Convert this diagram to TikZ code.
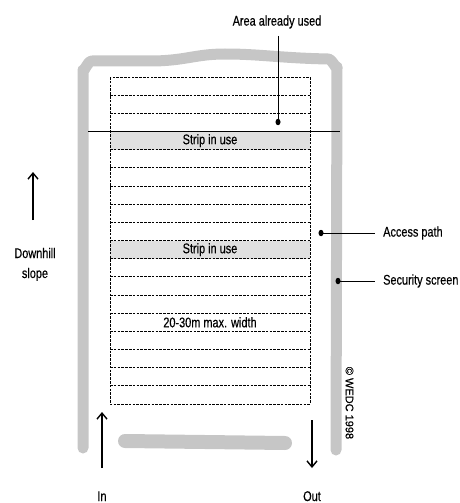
\documentclass[tikz,border=0pt]{standalone}
\usepackage{fontspec}
\setmainfont[FakeStretch=0.78,FakeBold=0.4]{Liberation Sans}
\newfontfamily\plainfont[FakeBold=0.4]{Liberation Sans}
\usetikzlibrary{arrows.meta,shapes.geometric}
\definecolor{bandgray}{RGB}{198,198,198}
\definecolor{stripgray}{RGB}{224,224,224}
\begin{document}
\begin{tikzpicture}[x=1pt,y=-1pt,
  band/.style={draw=bandgray,line width=11pt,line cap=round,line join=round},
  dashline/.style={draw=black,line width=1pt,dash pattern=on 2.6pt off 1.2pt},
  stripfill/.style={fill=stripgray},
  lbl/.style={font=\fontsize{14}{16}\selectfont,inner sep=0pt},
  dotnode/.style={fill=black,ellipse,inner sep=0pt,minimum width=5pt,minimum height=6.5pt},
  leader/.style={draw=black,line width=0.8pt},
  bigarrow/.style={draw=black,line width=1.4pt,-{Straight Barb[length=6pt,width=10pt,line width=1.4pt]}}
]
\useasboundingbox (0,0) rectangle (459,503);
% security screen
\draw[band] (83,448) -- (83,70) to[out=-90,in=180] (92,61) -- (150,61)
  .. controls (185,61) and (195,54) .. (225,54)
  .. controls (260,54) and (280,58) .. (328,59) to[out=0,in=-90] (337,67) -- (336,450);
\draw[band,line width=14pt] (125,441) -- (285,443);
% strips in use
\fill[stripfill] (110,131.5) rectangle (310,149.67);
\fill[stripfill] (110,240.5) rectangle (310,258.67);
% dashed area
\draw[dashline] (110,77) rectangle (310,404);
\foreach \k in {1,...,17} {
  \draw[dashline] (110,77+\k*18.1667) -- (310,77+\k*18.1667);
}
% solid line
\coordinate (solidL) at (88,131);
\coordinate (solidR) at (340,131);
\draw[leader] (solidL) -- (solidR);
% strip texts
\node[lbl] (strip1) at (210,140.6) {Strip in use};
\node[lbl] (strip2) at (210,249.6) {Strip in use};
\node[lbl] (width) at (210,322.3) {20-30m max. width};
% area already used
\node[lbl] (area) at (277,22) {Area already used};
\node[dotnode] (areadot) at (278,122) {};
\draw[leader] (278,36) -- (areadot.center);
% access path
\node[dotnode] (accdot) at (321,233) {};
\node[lbl,anchor=west] (acc) at (383,233) {Access path};
\draw[leader] (accdot.center) -- ([xshift=-8pt]acc.west);
% security screen
\node[dotnode] (secdot) at (338,281) {};
\node[lbl,anchor=west] (sec) at (383,281) {Security screen};
\draw[leader] (secdot.center) -- ([xshift=-8pt]sec.west);
% downhill
\coordinate (dhB) at (33,220);
\coordinate (dhT) at (33,172);
\draw[bigarrow] (dhB) -- (dhT);
\node[lbl,anchor=base] (down) at (35,258) {Downhill};
\node[lbl,anchor=base] (slope) at (35,278) {slope};
% in / out
\coordinate (inB) at (102,468);
\coordinate (inT) at (102,412);
\draw[bigarrow] (inB) -- (inT);
\coordinate (outT) at (312,420);
\coordinate (outB) at (312,468);
\draw[bigarrow] (outT) -- (outB);
\node[lbl,anchor=base] (in) at (102,501) {In};
\node[lbl,anchor=base] (out) at (312,501) {Out};
% copyright
\node[inner sep=0pt,rotate=-90,font=\plainfont\fontsize{11}{12}\selectfont] (wedc) at (349.5,403) {© WEDC 1998};
\end{tikzpicture}
\end{document}
